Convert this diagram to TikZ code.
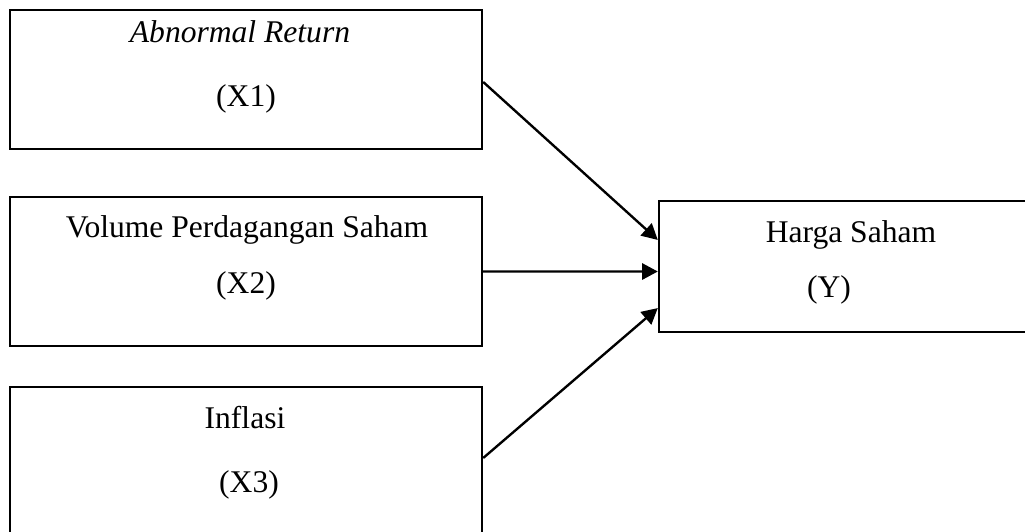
\documentclass[tikz,border=0pt]{standalone}
\usepackage{fontspec}
\setmainfont{Liberation Serif}
\usetikzlibrary{arrows.meta}
\begin{document}
\begin{tikzpicture}[x=0.38pt, y=-0.38pt, line width=0.9pt,
  varbox/.style={draw, minimum width=179.4pt, inner sep=0pt},
  lbl/.style={font=\fontsize{12pt}{14pt}\selectfont, anchor=base, inner sep=0pt},
  link/.style={-{Triangle[length=6pt, width=6.2pt]}}]
  \clip (0,0) rectangle (1025,531);
  \node[varbox, minimum height=52.8pt] (x1) at (246,79.5) {};
  \node[varbox, minimum height=56.6pt] (x2) at (246,271.5) {};
  \node[varbox, minimum height=65.7pt] (x3) at (246,473.5) {};
  \node[draw, minimum width=144.8pt, minimum height=49.8pt, inner sep=0pt] (y) at (849.5,266.5) {};
  \node[lbl] (x1name) at (240,42) {\textit{Abnormal Return}};
  \node[lbl] (x1code) at (246,106) {(X1)};
  \node[lbl] (x2name) at (247,237) {Volume Perdagangan Saham};
  \node[lbl] (x2code) at (246,293) {(X2)};
  \node[lbl] (x3name) at (245,428) {Inflasi};
  \node[lbl] (x3code) at (249,492) {(X3)};
  \node[lbl] (yname) at (851,242) {Harga Saham};
  \node[lbl] (ycode) at (829,297) {(Y)};
  \draw[link] ([yshift=-0.95pt]x1.east) -- ([yshift=10.1pt]y.west);
  \draw[link] (x2.east) -- ([yshift=-1.9pt]y.west);
  \draw[link] ([yshift=5.9pt]x3.east) -- ([yshift=-15.8pt]y.west);
\end{tikzpicture}
\end{document}
